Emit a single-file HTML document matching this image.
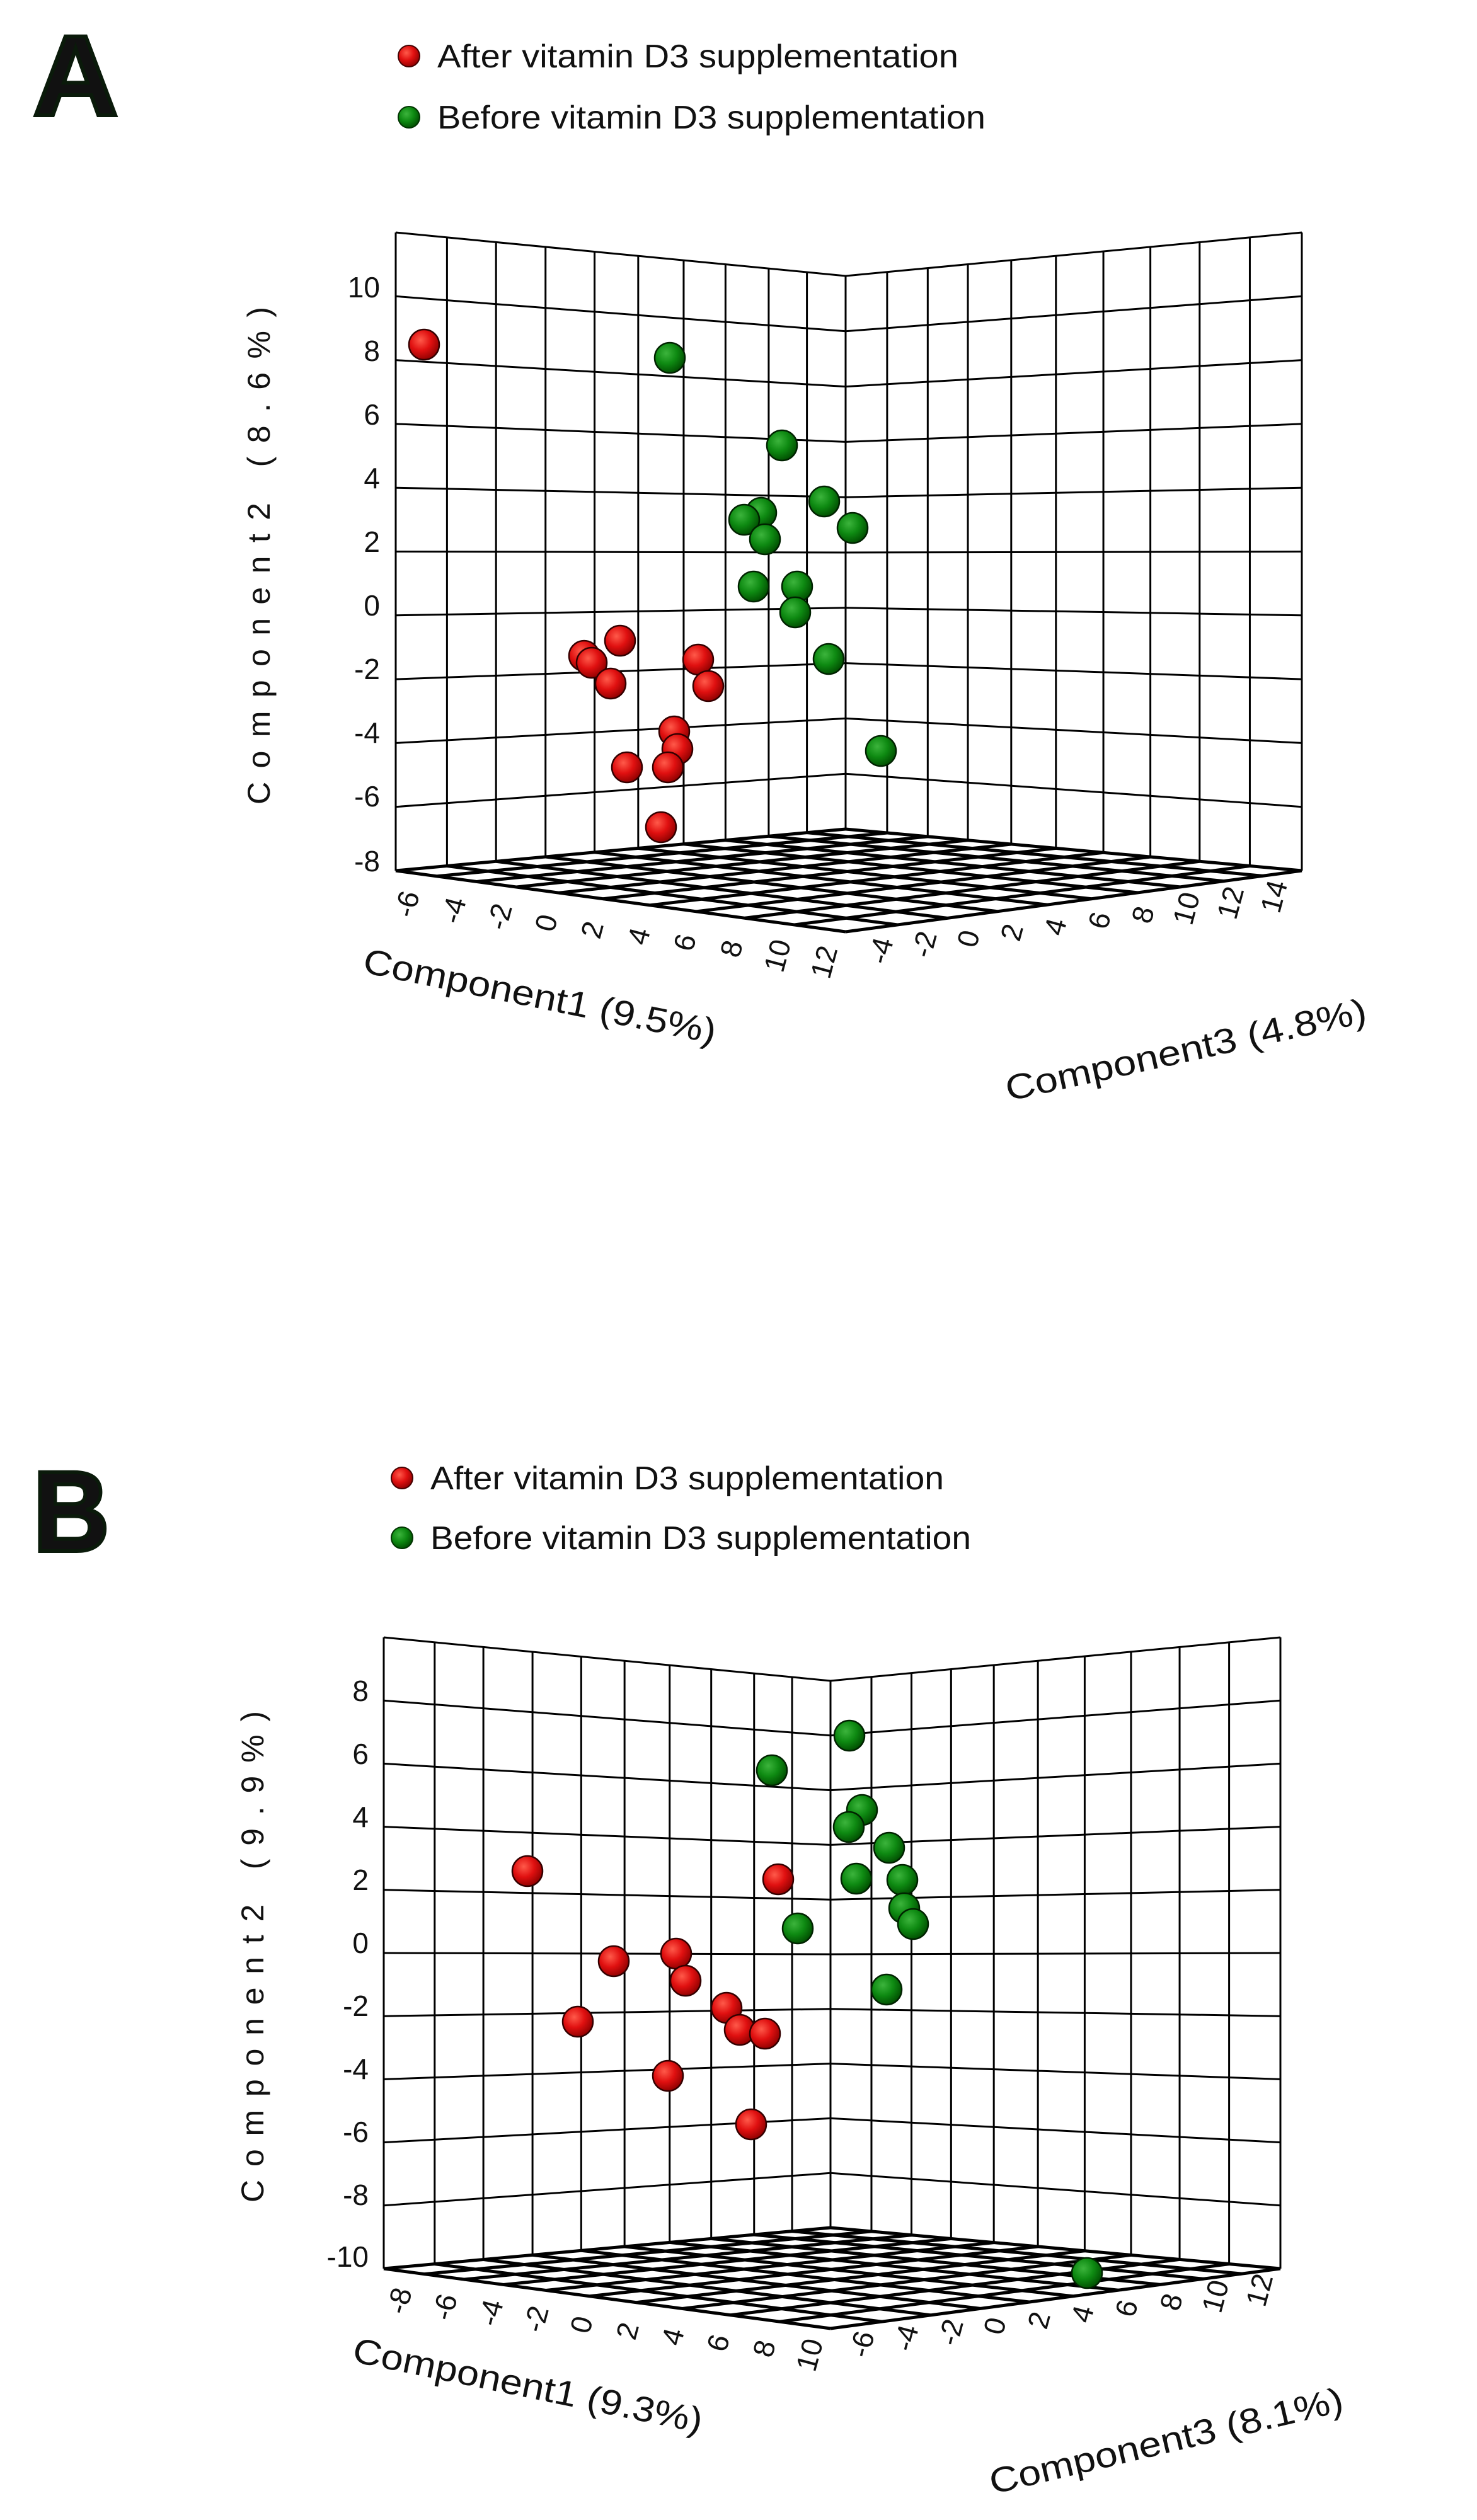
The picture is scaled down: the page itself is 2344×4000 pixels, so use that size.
<!DOCTYPE html>
<html><head><meta charset="utf-8"><style>
html,body{margin:0;padding:0;background:#fff;}
svg{display:block;}
text{font-family:"Liberation Sans",Arial,sans-serif;fill:#111;}
</style></head><body>
<svg id="s" width="2344" height="4000" viewBox="0 0 2344 4000" xmlns="http://www.w3.org/2000/svg">
<rect width="2344" height="4000" fill="#fff"/>
<defs>
<radialGradient id="gr" cx="0.38" cy="0.35" r="0.7"><stop offset="0" stop-color="#ff5a4a"/><stop offset="0.5" stop-color="#e01010"/><stop offset="1" stop-color="#8a0000"/></radialGradient>
<radialGradient id="gg" cx="0.38" cy="0.35" r="0.7"><stop offset="0" stop-color="#3cb43c"/><stop offset="0.5" stop-color="#0e8a12"/><stop offset="1" stop-color="#004a00"/></radialGradient>
</defs>
<g id="grids" stroke="#000" stroke-width="3" fill="none"></g>
<g id="floor" stroke="#000" stroke-width="5" fill="none"></g>
<g id="pts"></g>

<!-- Panel A -->
<text x="52" y="183" font-size="182" font-weight="bold" fill="#0a1a0a" stroke="#0a1a0a" stroke-width="6" textLength="136" lengthAdjust="spacingAndGlyphs">A</text>
<circle cx="649" cy="89" r="17" fill="url(#gr)" stroke="#400" stroke-width="2"/>
<text x="694" y="107" font-size="52" textLength="827" lengthAdjust="spacingAndGlyphs" fill="#0e1e0e">After vitamin D3 supplementation</text>
<circle cx="649" cy="186" r="17" fill="url(#gg)" stroke="#030" stroke-width="2"/>
<text x="694" y="204" font-size="52" textLength="870" lengthAdjust="spacingAndGlyphs" fill="#0e1e0e">Before vitamin D3 supplementation</text>
<g font-size="46" text-anchor="end">
<text x="603" y="472">10</text><text x="603" y="573">8</text><text x="603" y="674">6</text><text x="603" y="775">4</text><text x="603" y="876">2</text><text x="603" y="977">0</text><text x="603" y="1078">-2</text><text x="603" y="1179">-4</text><text x="603" y="1280">-6</text><text x="603" y="1383">-8</text>
</g>
<text transform="translate(428,882) rotate(-90)" font-size="50" text-anchor="middle" textLength="790" lengthAdjust="spacing">Component2 (8.6%)</text>
<text transform="translate(853,1600) rotate(11.5)" font-size="56" text-anchor="middle" textLength="570" lengthAdjust="spacingAndGlyphs">Component1 (9.5%)</text>
<text transform="translate(1886,1685) rotate(-12.4)" font-size="56" text-anchor="middle" textLength="585" lengthAdjust="spacingAndGlyphs">Component3 (4.8%)</text>

<!-- Panel B -->
<text x="52" y="2462" font-size="182" font-weight="bold" fill="#0a1a0a" stroke="#0a1a0a" stroke-width="6" textLength="122" lengthAdjust="spacingAndGlyphs">B</text>
<circle cx="638" cy="2346" r="17" fill="url(#gr)" stroke="#400" stroke-width="2"/>
<text x="683" y="2364" font-size="52" textLength="815" lengthAdjust="spacingAndGlyphs" fill="#0e1e0e">After vitamin D3 supplementation</text>
<circle cx="638" cy="2441" r="17" fill="url(#gg)" stroke="#030" stroke-width="2"/>
<text x="683" y="2459" font-size="52" textLength="858" lengthAdjust="spacingAndGlyphs" fill="#0e1e0e">Before vitamin D3 supplementation</text>
<g font-size="46" text-anchor="end">
<text x="585" y="2700">8</text><text x="585" y="2800">6</text><text x="585" y="2900">4</text><text x="585" y="3000">2</text><text x="585" y="3100">0</text><text x="585" y="3200">-2</text><text x="585" y="3300">-4</text><text x="585" y="3400">-6</text><text x="585" y="3500">-8</text><text x="585" y="3598">-10</text>
</g>
<text transform="translate(418,3106) rotate(-90)" font-size="50" text-anchor="middle" textLength="780" lengthAdjust="spacing">Component2 (9.9%)</text>
<text transform="translate(834,3805) rotate(11.6)" font-size="56" text-anchor="middle" textLength="565" lengthAdjust="spacingAndGlyphs">Component1 (9.3%)</text>
<text transform="translate(1855,3893) rotate(-13.3)" font-size="56" text-anchor="middle" textLength="575" lengthAdjust="spacingAndGlyphs">Component3 (8.1%)</text>

<!-- tick labels -->
<g font-size="46" text-anchor="middle">
<text transform="translate(661,1439) rotate(-75)">-6</text>
<text transform="translate(735,1449) rotate(-75)">-4</text>
<text transform="translate(808,1459) rotate(-75)">-2</text>
<text transform="translate(882,1469) rotate(-75)">0</text>
<text transform="translate(955,1480) rotate(-75)">2</text>
<text transform="translate(1029,1490) rotate(-75)">4</text>
<text transform="translate(1102,1500) rotate(-75)">6</text>
<text transform="translate(1176,1510) rotate(-75)">8</text>
<text transform="translate(1249,1521) rotate(-75)">10</text>
<text transform="translate(1323,1531) rotate(-75)">12</text>
<text transform="translate(1413,1513) rotate(-75)">-4</text>
<text transform="translate(1482,1503) rotate(-75)">-2</text>
<text transform="translate(1552,1494) rotate(-75)">0</text>
<text transform="translate(1621,1484) rotate(-75)">2</text>
<text transform="translate(1690,1475) rotate(-75)">4</text>
<text transform="translate(1760,1465) rotate(-75)">6</text>
<text transform="translate(1829,1456) rotate(-75)">8</text>
<text transform="translate(1898,1446) rotate(-75)">10</text>
<text transform="translate(1968,1437) rotate(-75)">12</text>
<text transform="translate(2037,1427) rotate(-75)">14</text>

<text transform="translate(649,3656) rotate(-75)">-8</text>
<text transform="translate(721,3666) rotate(-75)">-6</text>
<text transform="translate(794,3675) rotate(-75)">-4</text>
<text transform="translate(866,3685) rotate(-75)">-2</text>
<text transform="translate(938,3694) rotate(-75)">0</text>
<text transform="translate(1011,3704) rotate(-75)">2</text>
<text transform="translate(1083,3713) rotate(-75)">4</text>
<text transform="translate(1155,3723) rotate(-75)">6</text>
<text transform="translate(1228,3732) rotate(-75)">8</text>
<text transform="translate(1300,3742) rotate(-75)">10</text>
<text transform="translate(1383,3725) rotate(-75)">-6</text>
<text transform="translate(1453,3715) rotate(-75)">-4</text>
<text transform="translate(1524,3706) rotate(-75)">-2</text>
<text transform="translate(1594,3696) rotate(-75)">0</text>
<text transform="translate(1664,3687) rotate(-75)">2</text>
<text transform="translate(1733,3677) rotate(-75)">4</text>
<text transform="translate(1803,3668) rotate(-75)">6</text>
<text transform="translate(1874,3658) rotate(-75)">8</text>
<text transform="translate(1944,3649) rotate(-75)">10</text>
<text transform="translate(2014,3639) rotate(-75)">12</text>
</g>
</svg>
<script>
(function(){
var NS="http://www.w3.org/2000/svg";
var g=document.getElementById('grids'), fl=document.getElementById('floor'), P=document.getElementById('pts');
function L(a,b,par){var l=document.createElementNS(NS,'line');l.setAttribute('x1',a[0]);l.setAttribute('y1',a[1]);l.setAttribute('x2',b[0]);l.setAttribute('y2',b[1]);(par||g).appendChild(l);}
function lerp(a,b,t){return [a[0]+(b[0]-a[0])*t,a[1]+(b[1]-a[1])*t];}
var tl=[0,.114,.223,.333,.442,.539,.640,.733,.829,.914,1];
var tr=[0,.091,.180,.268,.363,.461,.565,.668,.776,.886,1];
function panel(TL,AT,TR,BL,AB,BR,F){
  for(var i=0;i<=10;i++){
    L(lerp(TL,AT,tl[i]),lerp(BL,AB,tl[i]));
    L(lerp(AT,TR,tr[i]),lerp(AB,BR,tr[i]));
    var s=i/10;
    L(lerp(TL,BL,s),lerp(AT,AB,s));
    L(lerp(AT,AB,s),lerp(TR,BR,s));
    L(lerp(AB,BL,1-tl[i]),lerp(BR,F,1-tl[i]),fl);
    L(lerp(AB,BR,tr[i]),lerp(BL,F,tr[i]),fl);
  }
}
panel([628,369],[1342,438],[2066,369],[628,1382],[1342,1316],[2066,1382],[1342,1479]);
panel([609,2599],[1318,2668],[2032,2599],[609,3601],[1318,3536],[2032,3601],[1318,3696]);
function C(x,y,red){var c=document.createElementNS(NS,'circle');c.setAttribute('cx',x);c.setAttribute('cy',y);c.setAttribute('r',24);c.setAttribute('fill',red?'url(#gr)':'url(#gg)');c.setAttribute('stroke',red?'#300':'#020');c.setAttribute('stroke-width',2.5);P.appendChild(c);}
var rA=[[673,547],[984,1017],[927,1041],[939,1052],[969,1085],[1108,1047],[1124,1089],[1070,1161],[1075,1189],[995,1218],[1060,1218],[1049,1313]];
var gA=[[1063,568],[1241,707],[1308,796],[1353,838],[1208,814],[1181,825],[1214,856],[1196,931],[1265,931],[1262,972],[1315,1046],[1398,1192]];
var rB=[[837,2970],[1235,2983],[974,3113],[1073,3101],[1088,3144],[1153,3187],[1174,3222],[1214,3228],[917,3209],[1060,3295],[1192,3372]];
var gB=[[1348,2755],[1225,2810],[1368,2873],[1347,2900],[1411,2933],[1359,2982],[1432,2984],[1435,3029],[1449,3054],[1266,3061],[1407,3158],[1725,3608]];
rA.forEach(function(p){C(p[0],p[1],1)});gA.forEach(function(p){C(p[0],p[1],0)});
rB.forEach(function(p){C(p[0],p[1],1)});gB.forEach(function(p){C(p[0],p[1],0)});
})();
</script>
</body></html>
